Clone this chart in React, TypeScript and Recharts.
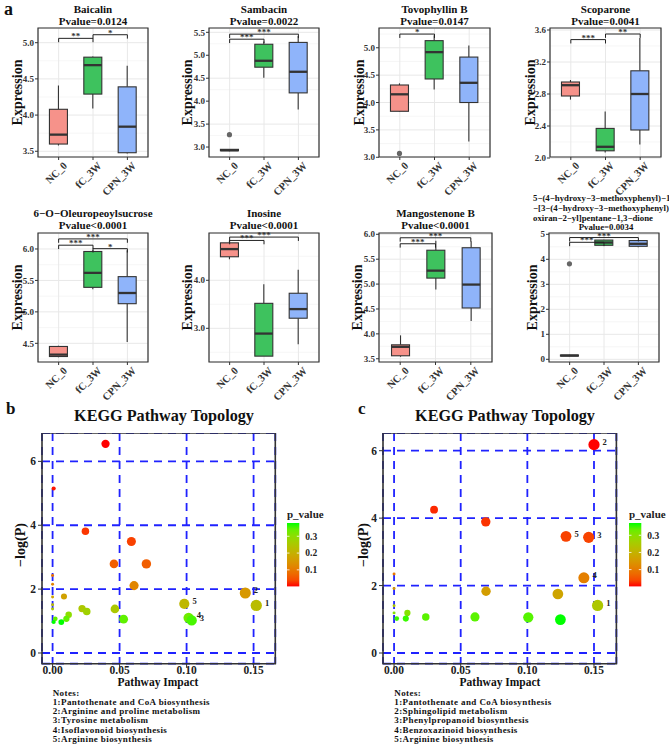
import React from "react";
import {
  Bar,
  CartesianGrid,
  Cell,
  ComposedChart,
  LabelList,
  ReferenceArea,
  ReferenceLine,
  Scatter,
  ScatterChart,
  XAxis,
  YAxis,
  ZAxis,
} from "recharts";

const SERIF = "'Liberation Serif', 'Times New Roman', serif";

const groups = ["NC_0", "fC_3W", "CPN_3W"];
const groupFill = ["#F6928A", "#3EC25E", "#8FB4FA"];

// each row: [min, q1, median, q3, max] for NC_0, fC_3W, CPN_3W
// sig rows: [from group, to group, bracket height, stars]
const baicalinStats = [
  [3.58, 3.6, 3.73, 4.08, 4.41],
  [4.09, 4.29, 4.69, 4.8, 4.81],
  [3.47, 3.48, 3.84, 4.39, 4.68],
];
const baicalinOut = [[], [], []];
const baicalinSig = [[0, 1, 5.06, "**"], [1, 2, 5.11, "*"]];
const baicalinDomain = [3.421, 5.203];
const baicalinTicks = [3.5, 4, 4.5, 5];

const sambacinStats = [
  [2.91, 2.92, 2.93, 2.95, 2.96],
  [4.51, 4.74, 4.88, 5.24, 5.3],
  [3.82, 4.18, 4.64, 5.28, 5.42],
];
const sambacinOut = [[3.27], [], []];
const sambacinSig = [[0, 1, 5.35, "***"], [0, 2, 5.46, "***"]];
const sambacinDomain = [2.783, 5.594];
const sambacinTicks = [3, 3.5, 4, 4.5, 5, 5.5];

const tovophyllinStats = [
  [3.83, 3.84, 4.15, 4.32, 4.35],
  [4.24, 4.43, 4.92, 5.13, 5.23],
  [3.29, 4.0, 4.36, 4.83, 5.04],
];
const tovophyllinOut = [[3.07], [], []];
const tovophyllinSig = [[0, 1, 5.25, "*"]];
const tovophyllinDomain = [3.005, 5.361];
const tovophyllinTicks = [3, 3.5, 4, 4.5, 5];

const scoparoneStats = [
  [2.73, 2.775, 2.91, 2.95, 2.975],
  [2.07, 2.09, 2.14, 2.37, 2.58],
  [2.17, 2.35, 2.8, 3.09, 3.5],
];
const scoparoneOut = [[], [], []];
const scoparoneSig = [[0, 1, 3.48, "***"], [1, 2, 3.55, "**"]];
const scoparoneDomain = [2.0125, 3.625];
const scoparoneTicks = [2.0, 2.4, 2.8, 3.2, 3.6];

const sucroseStats = [
  [4.28, 4.29, 4.32, 4.45, 4.46],
  [5.36, 5.39, 5.62, 5.96, 5.98],
  [4.52, 5.13, 5.3, 5.56, 5.98],
];
const sucroseOut = [[], [], []];
const sucroseSig = [[0, 1, 6.06, "***"], [0, 2, 6.16, "***"], [1, 2, 6.005, "*"]];
const sucroseDomain = [4.203, 6.254];
const sucroseTicks = [4.5, 5, 5.5, 6];

const inosineStats = [
  [4.44, 4.49, 4.65, 4.78, 4.83],
  [2.42, 2.42, 2.89, 3.52, 3.92],
  [2.67, 3.21, 3.4, 3.73, 4.22],
];
const inosineOut = [[], [], []];
const inosineSig = [[0, 1, 4.83, "***"], [0, 2, 4.9, "***"]];
const inosineDomain = [2.298, 4.985];
const inosineTicks = [3, 4];

const mangostenoneStats = [
  [3.54, 3.56, 3.74, 3.78, 3.97],
  [4.89, 5.12, 5.27, 5.68, 5.87],
  [4.26, 4.52, 4.99, 5.73, 5.86],
];
const mangostenoneOut = [[], [], []];
const mangostenoneSig = [[0, 1, 5.81, "***"], [0, 2, 5.93, "***"]];
const mangostenoneDomain = [3.435, 6.026];
const mangostenoneTicks = [3.5, 4, 4.5, 5, 5.5, 6];

const dioneStats = [
  [0.12, 0.13, 0.15, 0.17, 0.18],
  [4.55, 4.56, 4.67, 4.77, 4.78],
  [4.48, 4.52, 4.62, 4.75, 4.76],
];
const dioneOut = [[3.82], [], []];
const dioneSig = [[0, 1, 4.68, "***"], [0, 2, 4.87, "***"]];
const dioneDomain = [-0.108, 5.052];
const dioneTicks = [0, 1, 2, 3, 4, 5];

// KEGG topology: [pathway impact, -log(P), note number]
const topologyB: [number, number, string][] = [
  [0.0395, 6.55, ""], [0.0008, 5.15, ""], [0.0245, 3.81, ""], [0.0588, 3.49, ""],
  [0.0458, 2.79, ""], [0.07, 2.79, ""], [0.0608, 2.11, ""], [0, 2.43, ""],
  [0, 2.15, ""], [0, 1.75, ""], [0.1438, 1.88, "2"], [0.0085, 1.77, ""],
  [0, 1.51, ""], [0, 1.38, ""], [0.0983, 1.54, "5"], [0.152, 1.49, "1"],
  [0.022, 1.39, ""], [0.0255, 1.3, ""], [0.0465, 1.38, ""], [0.012, 1.2, ""],
  [0.0103, 1.07, ""], [0.002, 1.07, ""], [0.0008, 0.97, ""], [0.0065, 0.97, ""],
  [0.053, 1.06, ""], [0.1015, 1.1, "4"], [0.1038, 1.02, "3"],
];
const topologyC: [number, number, string][] = [
  [0.15, 6.18, "2"], [0.03, 4.25, ""], [0.0688, 3.89, ""], [0.129, 3.46, "5"],
  [0.146, 3.43, "3"], [0.1424, 2.23, "4"], [0, 2.34, ""], [0, 1.91, ""],
  [0.069, 1.83, ""], [0.1229, 1.75, ""], [0.1527, 1.41, "1"], [0, 1.4, ""],
  [0.01, 1.19, ""], [0, 1.19, ""], [0.002, 1.02, ""], [0.0088, 1.02, ""],
  [0.0238, 1.07, ""], [0.0607, 1.07, ""], [0.1007, 1.06, ""], [0.1248, 0.99, ""],
];
const impactTicks = [0, 0.05, 0.1, 0.15];
const logPTicks = [0, 2, 4, 6];
const pValueTicks = [0.1, 0.2, 0.3];

const notesB = [
  "1:Pantothenate and CoA biosynthesis",
  "2:Arginine and proline metabolism",
  "3:Tyrosine metabolism",
  "4:Isoflavonoid biosynthesis",
  "5:Arginine biosynthesis",
];
const notesC = [
  "1:Pantothenate and CoA biosynthesis",
  "2:Sphingolipid metabolism",
  "3:Phenylpropanoid biosynthesis",
  "4:Benzoxazinoid biosynthesis",
  "5:Arginine biosynthesis",
];

// red -> green ramp interpolated in CIELAB, like ggplot's gradient scale
const WHITE = [0.95047, 1, 1.08883];
function toLab(rgb: number[]) {
  const lin = rgb.map((c) => {
    const v = c / 255;
    return v <= 0.04045 ? v / 12.92 : Math.pow((v + 0.055) / 1.055, 2.4);
  });
  const xyz = [
    0.4124 * lin[0] + 0.3576 * lin[1] + 0.1805 * lin[2],
    0.2126 * lin[0] + 0.7152 * lin[1] + 0.0722 * lin[2],
    0.0193 * lin[0] + 0.1192 * lin[1] + 0.9505 * lin[2],
  ].map((v, i) => v / WHITE[i]);
  const f = xyz.map((t) => (t > 0.008856 ? Math.cbrt(t) : 7.787 * t + 16 / 116));
  return [116 * f[1] - 16, 500 * (f[0] - f[1]), 200 * (f[1] - f[2])];
}
function fromLab([L, a, b]: number[]) {
  const fy = (L + 16) / 116;
  const fs = [fy + a / 500, fy, fy - b / 200];
  const [X, Y, Z] = fs.map((t, i) => {
    const t3 = t * t * t;
    return WHITE[i] * (t3 > 0.008856 ? t3 : (t - 16 / 116) / 7.787);
  });
  const lin = [
    3.2406 * X - 1.5372 * Y - 0.4986 * Z,
    -0.9689 * X + 1.8758 * Y + 0.0415 * Z,
    0.0557 * X - 0.204 * Y + 1.057 * Z,
  ];
  const hex = lin.map((c) => {
    const v = Math.min(1, Math.max(0, c));
    const s = v <= 0.0031308 ? 12.92 * v : 1.055 * Math.pow(v, 1 / 2.4) - 0.055;
    return Math.round(s * 255).toString(16).padStart(2, "0");
  });
  return "#" + hex.join("");
}
const LOW = toLab([255, 0, 0]);
const HIGH = toLab([0, 255, 0]);
function rampColor(t: number) {
  const k = Math.min(1, Math.max(0, t));
  return fromLab(LOW.map((v, i) => v + (HIGH[i] - v) * k));
}

function minorBreaks(ticks: number[], domain: number[]) {
  const step = ticks[1] - ticks[0];
  const out: number[] = [];
  for (let v = ticks[0] - step / 2; v <= domain[1]; v += step) {
    if (v >= domain[0]) out.push(v);
  }
  return out;
}

function BoxShape(props: any) {
  const { x, y, width, height, payload } = props;
  const [lo, q1, med, q3, hi] = payload.stats;
  const k = height / (hi - lo);
  const py = (v: number) => y + (hi - v) * k;
  const cx = x + width / 2;
  return (
    <g>
      <line x1={cx} x2={cx} y1={py(hi)} y2={py(q3)} stroke="#333" strokeWidth={1.1} />
      <line x1={cx} x2={cx} y1={py(q1)} y2={py(lo)} stroke="#333" strokeWidth={1.1} />
      <rect
        x={x}
        y={py(q3)}
        width={width}
        height={Math.max(py(q1) - py(q3), 0.5)}
        fill={payload.fill}
        stroke="#333"
        strokeWidth={1.1}
      />
      <line x1={x} x2={x + width} y1={py(med)} y2={py(med)} stroke="#333" strokeWidth={2.3} />
      {payload.out.map((v: number, i: number) => (
        <circle key={i} cx={cx} cy={py(v)} r={2.6} fill="#666" />
      ))}
    </g>
  );
}

function GroupTick(props: any) {
  const { x, y, payload } = props;
  return (
    <text
      transform={`translate(${x + 4},${y - 1}) rotate(-45)`}
      textAnchor="end"
      dy="0.7em"
      fontSize={10.5}
      fontWeight="bold"
      fill="#333"
      fontFamily={SERIF}
    >
      {groups[payload.value - 1]}
    </text>
  );
}

type BoxPanelProps = {
  stats: number[][];
  out: number[][];
  sig: (number | string)[][];
  domain: number[];
  ticks: number[];
  digits: number;
  left: number;
  top: number;
  width: number;
  height: number;
};

function BoxPanel(p: BoxPanelProps) {
  const ML = 42;
  const MB = 40;
  const MT = 10;
  const data = groups.map((g, i) => ({
    pos: i + 1,
    stats: p.stats[i],
    out: p.out[i],
    fill: groupFill[i],
  }));
  const tip = (p.domain[1] - p.domain[0]) * 0.03;
  const brackets = p.sig.flatMap(([a, b, v, stars], i) => {
    const x1 = (a as number) + 1;
    const x2 = (b as number) + 1;
    const yv = v as number;
    return [
      <ReferenceLine
        key={`h${i}`}
        segment={[{ x: x1, y: yv }, { x: x2, y: yv }]}
        stroke="#222"
        strokeWidth={1}
        ifOverflow="visible"
        label={{
          value: stars as string,
          position: "top",
          offset: -1,
          fontSize: 9,
          fill: "#333",
          fontWeight: "bold",
          fontFamily: SERIF,
        }}
      />,
      <ReferenceLine
        key={`l${i}`}
        segment={[{ x: x1, y: yv }, { x: x1, y: yv - tip }]}
        stroke="#222"
        strokeWidth={1}
        ifOverflow="visible"
      />,
      <ReferenceLine
        key={`r${i}`}
        segment={[{ x: x2, y: yv }, { x: x2, y: yv - tip }]}
        stroke="#222"
        strokeWidth={1}
        ifOverflow="visible"
      />,
    ];
  });
  return (
    <div style={{ position: "absolute", left: p.left - ML, top: p.top - MT }}>
      <ComposedChart
        width={p.width + ML + 2}
        height={p.height + MB + MT}
        data={data}
        margin={{ top: MT, right: 2, bottom: 0, left: 12 }}
      >
        <CartesianGrid
          horizontalValues={minorBreaks(p.ticks, p.domain)}
          vertical={false}
          stroke="#f2f2f2"
          strokeWidth={0.7}
        />
        <CartesianGrid stroke="#e8e8e8" strokeWidth={1} />
        <XAxis
          type="number"
          dataKey="pos"
          domain={[0.4, 3.6]}
          ticks={[1, 2, 3]}
          allowDataOverflow
          height={MB}
          tick={<GroupTick />}
          tickSize={3}
          axisLine={false}
          tickLine={{ stroke: "#333" }}
        />
        <YAxis
          type="number"
          domain={p.domain}
          ticks={p.ticks}
          allowDataOverflow
          width={30}
          tickSize={3}
          tickMargin={1}
          axisLine={false}
          tickLine={{ stroke: "#333" }}
          tickFormatter={(v: number) => v.toFixed(p.digits)}
          tick={{ fontSize: 9, fontWeight: "bold", fill: "#333", fontFamily: SERIF }}
        />
        <Bar
          dataKey={(d: any) => [d.stats[0], d.stats[4]]}
          barSize={18}
          shape={<BoxShape />}
          isAnimationActive={false}
        />
        {brackets}
        <ReferenceArea
          x1={0.4}
          x2={3.6}
          y1={p.domain[0]}
          y2={p.domain[1]}
          fill="none"
          fillOpacity={0}
          stroke="#333"
          strokeWidth={1.2}
          ifOverflow="visible"
        />
      </ComposedChart>
    </div>
  );
}

function TagLabel(props: any) {
  const { x, y, width, height, value } = props;
  if (!value) return null;
  return (
    <text
      x={x + width + 3}
      y={y + height / 2 + 0.5}
      fontSize={8.5}
      fontWeight="bold"
      fill="#222"
      fontFamily={SERIF}
    >
      {value}
    </text>
  );
}

type TopologyProps = {
  points: [number, number, string][];
  xDomain: number[];
  yDomain: number[];
  left: number;
  top: number;
  width: number;
  height: number;
  legendLeft: number;
  legendTop: number;
};

function TopologyPanel(p: TopologyProps) {
  const ML = 40;
  const MB = 20;
  const rows = p.points.map(([impact, logp, tag]) => ({ impact, logp, tag, pv: Math.exp(-logp) }));
  const pMin = Math.min(...rows.map((d) => d.pv));
  const pMax = Math.max(...rows.map((d) => d.pv));
  const tickStyle = { fontSize: 11.5, fontWeight: "bold", fill: "#222", fontFamily: SERIF };
  const barH = 63.4;
  const barW = 12.3;
  const stops = Array.from({ length: 11 }, (_, i) => i / 10);
  const gid = `ramp${p.left}`;
  return (
    <>
      <div style={{ position: "absolute", left: p.left - ML, top: p.top }}>
        <ScatterChart
          width={p.width + ML + 2}
          height={p.height + MB}
          margin={{ top: 0, right: 2, bottom: 0, left: 10 }}
        >
          <CartesianGrid stroke="#1f22ff" strokeDasharray="8 6" strokeWidth={1.8} />
          <XAxis
            type="number"
            dataKey="impact"
            domain={p.xDomain}
            ticks={impactTicks}
            allowDataOverflow
            height={MB}
            tickSize={4}
            tickMargin={-2}
            axisLine={false}
            tickLine={{ stroke: "#333" }}
            tickFormatter={(v: number) => v.toFixed(2)}
            tick={tickStyle}
          />
          <YAxis
            type="number"
            dataKey="logp"
            domain={p.yDomain}
            ticks={logPTicks}
            allowDataOverflow
            width={30}
            tickSize={4}
            tickMargin={2}
            axisLine={false}
            tickLine={{ stroke: "#333" }}
            tick={tickStyle}
          />
          <ZAxis type="number" dataKey="impact" domain={[0, 0.153]} range={[7, 100]} scale="sqrt" />
          <Scatter data={rows} shape="circle" isAnimationActive={false}>
            {rows.map((d, i) => (
              <Cell key={i} fill={rampColor((d.pv - pMin) / (pMax - pMin))} />
            ))}
            <LabelList dataKey="tag" content={<TagLabel />} />
          </Scatter>
          <ReferenceArea
            x1={p.xDomain[0]}
            x2={p.xDomain[1]}
            y1={p.yDomain[0]}
            y2={p.yDomain[1]}
            fill="none"
            fillOpacity={0}
            stroke="#333"
            strokeWidth={1.6}
            ifOverflow="visible"
          />
        </ScatterChart>
      </div>
      <svg
        style={{ position: "absolute", left: p.legendLeft, top: p.legendTop - 14 }}
        width={50}
        height={barH + 20}
      >
        <defs>
          <linearGradient id={gid} x1="0" y1="1" x2="0" y2="0">
            {stops.map((t) => (
              <stop key={t} offset={t} stopColor={rampColor(t)} />
            ))}
          </linearGradient>
        </defs>
        <text x={0} y={8.5} fontSize={11} fontWeight="bold" fill="#222" fontFamily={SERIF}>
          p_value
        </text>
        <rect x={0} y={14} width={barW} height={barH} fill={`url(#${gid})`} />
        {pValueTicks.map((v) => {
          const yy = 14 + barH - ((v - pMin) / (pMax - pMin)) * barH;
          return (
            <g key={v}>
              <line x1={0} x2={2.5} y1={yy} y2={yy} stroke="#fff" strokeWidth={0.8} />
              <line x1={barW - 2.5} x2={barW} y1={yy} y2={yy} stroke="#fff" strokeWidth={0.8} />
              <text x={barW + 6} y={yy + 3.3} fontSize={9.5} fontWeight="bold" fill="#222" fontFamily={SERIF}>
                {v.toFixed(1)}
              </text>
            </g>
          );
        })}
      </svg>
    </>
  );
}

const row1 = 28;
const row2 = 233;
const boxH = 129;

export default function App() {
  const panels = [
    { title: ["Baicalin", "Pvalue=0.0124"], stats: baicalinStats, out: baicalinOut, sig: baicalinSig, domain: baicalinDomain, ticks: baicalinTicks, digits: 1, left: 38, top: row1, width: 110, ylab: 17 },
    { title: ["Sambacin", "Pvalue=0.0022"], stats: sambacinStats, out: sambacinOut, sig: sambacinSig, domain: sambacinDomain, ticks: sambacinTicks, digits: 1, left: 209, top: row1, width: 110, ylab: 187 },
    { title: ["Tovophyllin B", "Pvalue=0.0147"], stats: tovophyllinStats, out: tovophyllinOut, sig: tovophyllinSig, domain: tovophyllinDomain, ticks: tovophyllinTicks, digits: 1, left: 379, top: row1, width: 111, ylab: 359 },
    { title: ["Scoparone", "Pvalue=0.0041"], stats: scoparoneStats, out: scoparoneOut, sig: scoparoneSig, domain: scoparoneDomain, ticks: scoparoneTicks, digits: 1, left: 550, top: row1, width: 111, ylab: 530 },
    { title: ["6−O−Oleuropeoylsucrose", "Pvalue<0.0001"], stats: sucroseStats, out: sucroseOut, sig: sucroseSig, domain: sucroseDomain, ticks: sucroseTicks, digits: 1, left: 38, top: row2, width: 110, ylab: 17 },
    { title: ["Inosine", "Pvalue<0.0001"], stats: inosineStats, out: inosineOut, sig: inosineSig, domain: inosineDomain, ticks: inosineTicks, digits: 1, left: 209, top: row2, width: 110, ylab: 187 },
    { title: ["Mangostenone B", "Pvalue<0.0001"], stats: mangostenoneStats, out: mangostenoneOut, sig: mangostenoneSig, domain: mangostenoneDomain, ticks: mangostenoneTicks, digits: 1, left: 379, top: row2, width: 113, ylab: 357 },
    { title: [], stats: dioneStats, out: dioneOut, sig: dioneSig, domain: dioneDomain, ticks: dioneTicks, digits: 0, left: 549, top: row2, width: 110, ylab: 532 },
  ];
  const bold = { fontWeight: "bold", fontFamily: SERIF, fill: "#111" } as const;
  const noteLines = (x: number, lines: string[]) =>
    ["Notes:", ...lines].map((s, i) => (
      <text key={s + i} x={x} y={695.5 + i * 9.25} fontSize={9} letterSpacing={0.4} {...bold}>
        {s}
      </text>
    ));
  return (
    <div style={{ position: "relative", width: 669, height: 750, background: "#fff", overflow: "hidden" }}>
      <style>{"body{margin:0}"}</style>
      {panels.map((p, i) => (
        <BoxPanel key={i} {...p} height={boxH} />
      ))}
      <TopologyPanel
        points={topologyB}
        xDomain={[-0.0079, 0.1662]}
        yDomain={[-0.335, 6.889]}
        left={41.7}
        top={433.3}
        width={233.3}
        height={230.7}
        legendLeft={286.7}
        legendTop={523.3}
      />
      <TopologyPanel
        points={topologyC}
        xDomain={[-0.0083, 0.1668]}
        yDomain={[-0.317, 6.525]}
        left={383.3}
        top={433.3}
        width={233.4}
        height={230.7}
        legendLeft={629}
        legendTop={523.3}
      />
      <svg
        style={{ position: "absolute", left: 0, top: 0, pointerEvents: "none" }}
        width={669}
        height={750}
      >
        <text x={4} y={15} fontSize={18} {...bold}>a</text>
        <text x={6} y={414.3} fontSize={17} {...bold}>b</text>
        <text x={358} y={414.3} fontSize={17} {...bold}>c</text>
        {panels.map((p, i) => {
          const cx = p.left + p.width / 2;
          const cy = p.top + boxH / 2;
          const base = p.top === row1 ? 12.7 : 216.7;
          return (
            <g key={i}>
              {p.title.map((t, j) => (
                <text key={j} x={cx} y={base + j * 12.3} fontSize={11} textAnchor="middle" {...bold}>
                  {t}
                </text>
              ))}
              <text
                transform={`translate(${p.ylab},${cy}) rotate(-90)`}
                textAnchor="middle"
                dy="0.35em"
                fontSize={14}
                {...bold}
              >
                Expression
              </text>
            </g>
          );
        })}
        <text x={533} y={200.7} fontSize={8.8} {...bold}>5−(4−hydroxy−3−methoxyphenyl)−1</text>
        <text x={533} y={210.8} fontSize={8.8} {...bold}>−[3−(4−hydroxy−3−methoxyphenyl)</text>
        <text x={533} y={220.5} fontSize={8.8} {...bold}>oxiran−2−yl]pentane−1,3−dione</text>
        <text x={606} y={230} fontSize={8.8} textAnchor="middle" {...bold}>Pvalue=0.0034</text>

        <text x={164} y={420.7} fontSize={16.2} textAnchor="middle" {...bold}>KEGG Pathway Topology</text>
        <text x={505} y={420.7} fontSize={16.2} textAnchor="middle" {...bold}>KEGG Pathway Topology</text>
        <text x={158} y={686} fontSize={11.5} textAnchor="middle" {...bold}>Pathway Impact</text>
        <text x={500} y={686} fontSize={11.5} textAnchor="middle" {...bold}>Pathway Impact</text>
        <text transform="translate(20,545) rotate(-90)" textAnchor="middle" dy="0.35em" fontSize={14} {...bold}>
          −log(P)
        </text>
        <text transform="translate(363.3,545) rotate(-90)" textAnchor="middle" dy="0.35em" fontSize={14} {...bold}>
          −log(P)
        </text>
        {noteLines(52.7, notesB)}
        {noteLines(394.3, notesC)}
      </svg>
    </div>
  );
}
